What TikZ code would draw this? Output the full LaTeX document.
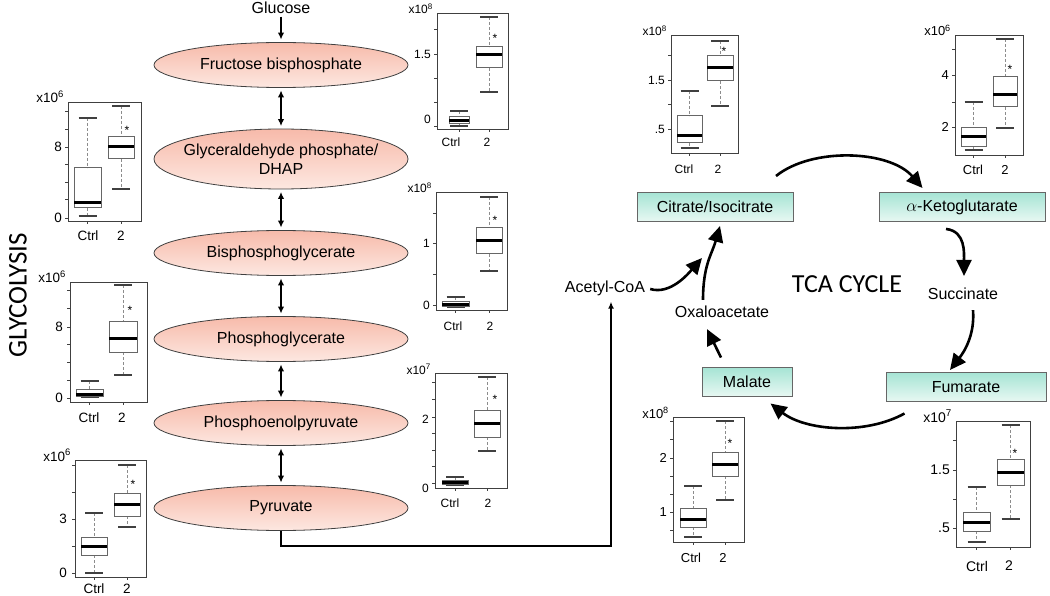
\documentclass[tikz,border=0pt]{standalone}
\usepackage{fontspec}
\setmainfont{Liberation Sans}
\newfontfamily\calib{Carlito}
\usetikzlibrary{shapes.geometric,arrows.meta}

\definecolor{pinktop}{RGB}{247,186,170}
\definecolor{pinkbot}{RGB}{253,232,225}
\definecolor{minttop}{RGB}{166,228,212}
\definecolor{mintbot}{RGB}{232,248,243}

\tikzset{
  glynode/.style={ellipse, draw=black!75, line width=0.8pt, top color=pinktop, bottom color=pinkbot,
    minimum width=254, minimum height=45, inner sep=0pt, font=\fontsize{16}{19}\selectfont},
  tcabox/.style={rectangle, draw=black!60, line width=1pt, top color=minttop, bottom color=mintbot,
    minimum height=29, inner sep=0pt, font=\fontsize{16}{19}\selectfont},
  tcatext/.style={inner sep=0pt, font=\fontsize{16}{19}\selectfont},
  glyarr/.style={line width=1.6pt, shorten <=2.5pt, shorten >=2.5pt, -{Latex[length=7pt,width=6.5pt]}},
  glyboth/.style={glyarr, {Latex[length=7pt,width=6.5pt]}-{Latex[length=7pt,width=6.5pt]}},
  cycarr/.style={line width=2.6pt, -{Triangle[length=16pt,width=15pt]}},
  link/.style={line width=1.4pt, -{Latex[length=7pt,width=6pt]}},
  bxaxis/.style={draw=black!75, line width=0.9pt},
  bxrect/.style={draw=black!60, line width=1pt},
  bxmed/.style={draw=black, line width=3pt},
  bxwhisk/.style={draw=black!45, line width=0.8pt, dash pattern=on 3pt off 2pt},
  bxcap/.style={draw=black!75, line width=1.3pt},
  bxlab/.style={inner sep=0pt, font=\fontsize{#1}{#1}\selectfont},
  bxstar/.style={inner sep=0pt, font=\fontsize{12}{12}\selectfont}
}

% frame of a small box plot: left, top, right, bottom, y ticks
\newcommand{\bxframe}[5]{%
  \draw[bxaxis] (#1,#2) rectangle (#3,#4);
  \foreach \t in {#5} \draw[bxaxis] (#1,\t) -- ++(-3,0);
}
% one box: left, right, whisker top, upper quartile, median, lower quartile, whisker bottom, frame bottom
\newcommand{\bxbox}[8]{%
  \pgfmathsetmacro{\bxm}{(#1+#2)/2}
  \draw[bxwhisk] (\bxm,#3) -- (\bxm,#4) (\bxm,#6) -- (\bxm,#7);
  \draw[bxcap] (\bxm-9,#3) -- (\bxm+9,#3) (\bxm-9,#7) -- (\bxm+9,#7);
  \draw[bxrect] (#1,#4) rectangle (#2,#6);
  \draw[bxmed] (#1,#5) -- (#2,#5);
  \draw[bxaxis] (\bxm,#8) -- ++(0,3);
}

\begin{document}
\begin{tikzpicture}[x=1pt, y=-1pt]
\useasboundingbox (0,0) rectangle (1050,596);

% glycolysis
\node[tcatext] (glc) at (281,8) {Glucose};
\node[glynode] (fbp) at (281,65) {Fructose bisphosphate};
\node[glynode, minimum height=60, inner xsep=-12pt, align=center] (gap) at (281,159) {Glyceraldehyde phosphate/\\DHAP};
\node[glynode] (bpg) at (281,253) {Bisphosphoglycerate};
\node[glynode] (pg) at (281,339) {Phosphoglycerate};
\node[glynode] (pep) at (281,423) {Phosphoenolpyruvate};
\node[glynode] (pyr) at (281,508) {Pyruvate};

\draw[glyarr] (glc) -- (fbp);
\draw[glyboth] (fbp) -- (gap);
\draw[glyboth] (gap) -- (bpg);
\draw[glyboth] (bpg) -- (pg);
\draw[glyboth] (pg) -- (pep);
\draw[glyboth] (pep) -- (pyr);

\node[rotate=90, inner sep=0pt, font=\calib\fontsize{27}{30}\selectfont] (glylab) at (18,295) {GLYCOLYSIS};

% TCA cycle
\node[tcabox, minimum width=156] (cit) at (715,207) {Citrate/Isocitrate};
\node[tcabox, minimum width=166] (akg) at (962,207) {$\alpha$-Ketoglutarate};
\node[tcatext] (suc) at (963,294) {Succinate};
\node[tcabox, minimum width=160] (fum) at (966,387) {Fumarate};
\node[tcabox, minimum width=90] (mal) at (747,382) {Malate};
\node[tcatext] (oaa) at (722,312) {Oxaloacetate};
\node[tcatext] (acoa) at (605,288) {Acetyl-CoA};
\node[inner sep=0pt, font=\calib\fontsize{26}{30}\selectfont] (tca) at (847,284) {TCA CYCLE};
\coordinate (join) at (702,258);

\draw[cycarr] ([shift={(61,-16)}]cit.north) .. controls +(36,-29) and +(-33,-38) .. ([shift={(44,-4)}]akg.north west);
\draw[cycarr] ([shift={(-16,7)}]akg.south) .. controls +(20,2) and +(0,-22) .. ([shift={(1,-12)}]suc.north);
\draw[cycarr] ([shift={(10,10)}]suc.south) .. controls +(2,25) and +(14,-18) .. ([shift={(-16,-2)}]fum.north);
\draw[cycarr] ([shift={(19,11.5)}]fum.south west) .. controls +(-40,22) and +(35,27) .. ([shift={(-22,6.5)}]mal.south east);
\draw[cycarr] ([shift={(-26,-9.5)}]mal.north) -- ([shift={(-15,11)}]oaa.south);
\draw[cycarr] ([shift={(-19,-6)}]oaa.north) .. controls +(0,-35) and +(-8,28) .. ([shift={(5,4)}]cit.south);
\draw[cycarr] ([shift={(5,1)}]acoa.east) .. controls +(20,6) and +(-14,16) .. (join);

\draw[link, shorten >=6pt] (pyr.south) -- ++(0,15) -| ([xshift=6pt]acoa.south);

% box plots, glycolysis side
\bxframe{68}{102}{141}{221}{111,129,147,164,182,199,218}
\bxbox{74}{101}{118}{168}{203}{208}{216}{221}
\bxbox{108}{134}{106}{137}{147}{159}{189}{221}
\node[bxlab=13.5, anchor=east] (p1a) at (62,147) {8};
\node[bxlab=13.5, anchor=east] (p1b) at (62,218) {0};
\node[bxlab=13.5, anchor=base east] (p1e) at (64,103) {x10\textsuperscript{6}};
\node[bxlab=13.5] (p1c) at (88,236) {Ctrl};
\node[bxlab=13.5] (p1d) at (121,236) {2};
\node[bxstar] (p1s) at (127,130) {*};

\bxframe{437}{13}{508}{129}{29,54,78,102,126}
\bxbox{449}{469}{111}{117}{121}{124}{126}{129}
\bxbox{476}{502}{17}{47}{55}{68}{92}{129}
\node[bxlab=12, anchor=east] (p2a) at (431,54) {1.5};
\node[bxlab=12, anchor=east] (p2b) at (431,119) {0};
\node[bxlab=12, anchor=base east] (p2e) at (433,14) {x10\textsuperscript{8}};
\node[bxlab=12] (p2c) at (451,142) {Ctrl};
\node[bxlab=12] (p2d) at (487,142) {2};
\node[bxstar] (p2s) at (495,38) {*};

\bxframe{436}{192}{507}{310}{213,243,274,305}
\bxbox{442}{469}{297}{301}{304}{306}{307}{310}
\bxbox{476}{502}{197}{228}{241}{254}{271}{310}
\node[bxlab=12, anchor=east] (p3a) at (430,243) {1};
\node[bxlab=12, anchor=east] (p3b) at (430,305) {0};
\node[bxlab=12, anchor=base east] (p3e) at (432,193) {x10\textsuperscript{8}};
\node[bxlab=12] (p3c) at (453,326) {Ctrl};
\node[bxlab=12] (p3d) at (490,326) {2};
\node[bxstar] (p3s) at (495,220) {*};

\bxframe{435}{373}{507}{488}{382,399,417,433,450,466,483}
\bxbox{442}{468}{477}{480}{482}{484}{485}{488}
\bxbox{474}{500}{377}{410}{423}{437}{451}{488}
\node[bxlab=12, anchor=east] (p4a) at (429,419) {2};
\node[bxlab=12, anchor=east] (p4b) at (429,488) {0};
\node[bxlab=12, anchor=base east] (p4e) at (431,374) {x10\textsuperscript{7}};
\node[bxlab=12] (p4c) at (450,503) {Ctrl};
\node[bxlab=12] (p4d) at (488,503) {2};
\node[bxstar] (p4s) at (495,399) {*};

\bxframe{70}{282}{147}{402}{290,308,327,344,362,380,398}
\bxbox{76}{103}{381}{389}{394}{396}{397}{402}
\bxbox{109}{137}{285}{321}{338}{352}{375}{402}
\node[bxlab=13.5, anchor=east] (p5a) at (63,327) {8};
\node[bxlab=13.5, anchor=east] (p5b) at (63,398) {0};
\node[bxlab=13.5, anchor=base east] (p5e) at (66,283) {x10\textsuperscript{6}};
\node[bxlab=13.5] (p5c) at (89,418) {Ctrl};
\node[bxlab=13.5] (p5d) at (122,418) {2};
\node[bxstar] (p5s) at (130,310) {*};

\bxframe{75}{460}{146}{577}{465,492,519,546,573}
\bxbox{81}{107}{513}{537}{546}{555}{573}{577}
\bxbox{114}{140}{465}{493}{504}{516}{527}{577}
\node[bxlab=13.5, anchor=east] (p6a) at (67,519) {3};
\node[bxlab=13.5, anchor=east] (p6b) at (67,573) {0};
\node[bxlab=13.5, anchor=base east] (p6e) at (71,461) {x10\textsuperscript{6}};
\node[bxlab=13.5] (p6c) at (94,589) {Ctrl};
\node[bxlab=13.5] (p6d) at (127,589) {2};
\node[bxstar] (p6s) at (133,484) {*};

% box plots, TCA side
\bxframe{671}{35}{738}{153}{55,80,104,129}
\bxbox{677}{702}{91}{116}{136}{143}{148}{153}
\bxbox{707}{733}{41}{56}{68}{81}{106}{153}
\node[bxlab=12, anchor=east] (p7a) at (665,80) {1.5};
\node[bxlab=12, anchor=east] (p7b) at (665,129) {.5};
\node[bxlab=12, anchor=base east] (p7e) at (667,36) {x10\textsuperscript{8}};
\node[bxlab=12] (p7c) at (684,169) {Ctrl};
\node[bxlab=12] (p7d) at (718,169) {2};
\node[bxstar] (p7s) at (724,51) {*};

\bxframe{955}{35}{1023}{155}{49,75,102,127}
\bxbox{961}{986}{102}{128}{137}{147}{150}{155}
\bxbox{993}{1017}{39}{77}{95}{107}{128}{155}
\node[bxlab=13, anchor=east] (p8a) at (949,75) {4};
\node[bxlab=13, anchor=east] (p8b) at (949,127) {2};
\node[bxlab=13, anchor=base east] (p8e) at (951,36) {x10\textsuperscript{6}};
\node[bxlab=13] (p8c) at (973,170) {Ctrl};
\node[bxlab=13] (p8d) at (1005,170) {2};
\node[bxstar] (p8s) at (1010,69) {*};

\bxframe{673}{417}{744}{542}{421,439,458,476,494,512,530}
\bxbox{680}{706}{486}{508}{519}{527}{537}{542}
\bxbox{712}{738}{421}{452}{464}{476}{500}{542}
\node[bxlab=13, anchor=east] (p9a) at (667,458) {2};
\node[bxlab=13, anchor=east] (p9b) at (667,512) {1};
\node[bxlab=13, anchor=base east] (p9e) at (669,418) {x10\textsuperscript{8}};
\node[bxlab=13] (p9c) at (691,558) {Ctrl};
\node[bxlab=13] (p9d) at (723,558) {2};
\node[bxstar] (p9s) at (730,443) {*};

\bxframe{956}{421}{1030}{547}{440,470,499,528}
\bxbox{963}{990}{487}{512}{522}{531}{542}{547}
\bxbox{997}{1024}{425}{459}{472}{485}{519}{547}
\node[bxlab=14, anchor=east] (p10a) at (950,470) {1.5};
\node[bxlab=14, anchor=east] (p10b) at (950,528) {.5};
\node[bxlab=14, anchor=base east] (p10e) at (952,422) {x10\textsuperscript{7}};
\node[bxlab=14] (p10c) at (977,566) {Ctrl};
\node[bxlab=14] (p10d) at (1009,566) {2};
\node[bxstar] (p10s) at (1015,453) {*};

\end{tikzpicture}
\end{document}
